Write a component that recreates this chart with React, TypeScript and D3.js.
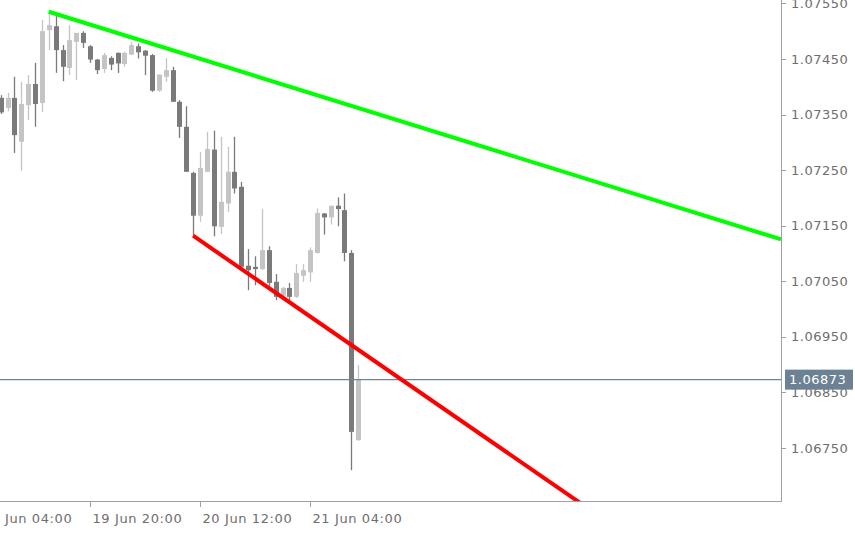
import React from "react";
import * as d3 from "d3";

// ---- Data (EURUSD H1) ----
const FIRST_BAR = "2024-06-19T07:00:00Z";
const OPEN = [1.0738,1.07362,1.0738,1.07301,1.07367,1.07405,1.07371,1.07502,1.07509,1.07466,1.07434,1.07481,1.07497,1.07473,1.07449,1.07432,1.07452,1.07461,1.07441,1.07458,1.07473,1.07465,1.07457,1.07393,1.07418,1.0743,1.07373,1.07328,1.07245,1.07168,1.07247,1.07287,1.07148,1.0719,1.07247,1.0722,1.07078,1.07076,1.07072,1.07106,1.07049,1.07024,1.07038,1.07022,1.0706,1.07066,1.07101,1.07172,1.07165,1.07186,1.07178,1.07101,1.06764];
const HIGH = [1.07385,1.07389,1.07418,1.07409,1.07421,1.07443,1.0752,1.07533,1.07529,1.07475,1.07511,1.07497,1.075,1.07475,1.0745,1.07461,1.07455,1.07462,1.07463,1.07481,1.07478,1.07466,1.07459,1.07422,1.07452,1.07436,1.07376,1.07365,1.07247,1.07283,1.07319,1.07321,1.0731,1.07292,1.0731,1.07229,1.07108,1.07095,1.0718,1.07113,1.07063,1.0704,1.07047,1.07081,1.07081,1.07111,1.07181,1.07173,1.07186,1.07201,1.07208,1.07106,1.06899];
const LOW = [1.07351,1.07356,1.07281,1.07249,1.0734,1.07328,1.07355,1.07466,1.07425,1.0741,1.07421,1.07412,1.0747,1.07443,1.07423,1.07425,1.0743,1.07425,1.07436,1.07457,1.07451,1.07421,1.07391,1.07391,1.07409,1.07373,1.07308,1.07247,1.07133,1.07157,1.07247,1.07131,1.07135,1.07175,1.07208,1.07074,1.07034,1.07043,1.0707,1.07042,1.07016,1.07019,1.07016,1.0702,1.07049,1.07049,1.071,1.07134,1.07152,1.07149,1.07086,1.0671,1.06763];
const CLOSE = [1.07354,1.0738,1.07313,1.07369,1.07405,1.07369,1.075,1.07511,1.07466,1.07436,1.07484,1.07497,1.07479,1.07449,1.0743,1.07457,1.0744,1.07442,1.07461,1.07475,1.07462,1.07456,1.07393,1.07422,1.0743,1.07373,1.07328,1.07247,1.07168,1.07254,1.07288,1.07149,1.07193,1.07247,1.07217,1.07076,1.0707,1.07072,1.07106,1.07047,1.07022,1.07038,1.07022,1.07065,1.0707,1.07106,1.07173,1.07165,1.07186,1.0718,1.07101,1.06779,1.06873];

const Y_TICKS = [1.0755,1.0745,1.0735,1.0725,1.0715,1.0705,1.0695,1.0685,1.0675];
const X_TICKS = ["2024-06-19T04:00:00Z","2024-06-19T20:00:00Z","2024-06-20T12:00:00Z","2024-06-21T04:00:00Z"];
const CURRENT_PRICE = 1.06873;

// trend lines: anchor points (time, price), drawn as rays to the right
const GREEN_LINE = [{ t: "2024-06-19T14:00:00Z", p: 1.07535 }, { t: "2024-06-21T11:00:00Z", p: 1.07362 }];
const RED_LINE = [{ t: "2024-06-20T11:00:00Z", p: 1.07132 }, { t: "2024-06-21T11:00:00Z", p: 1.06927 }];

const W = 855, H = 534;
const PLOT_R = 781, PLOT_B = 501;
const FONT = "'DejaVu Sans', Tahoma, sans-serif";

export default function App() {
  const x = d3.scaleUtc()
    .domain([new Date("2024-06-19T20:00:00Z"), new Date("2024-06-21T04:00:00Z")])
    .range([90, 310]);
  const y = d3.scaleLinear().domain([1.066546, 1.075562]).range([PLOT_B, 0]);
  const fmt = d3.format(".5f");
  const tfmt = d3.utcFormat("%d %b %H:%M");
  const start = new Date(FIRST_BAR);
  const bars = OPEN.map((o, i) => ({
    t: d3.utcHour.offset(start, i), o, h: HIGH[i], l: LOW[i], c: CLOSE[i],
  }));
  const bodyW = 5;

  const ray = (pts: { t: string; p: number }[]) => {
    const x1 = x(new Date(pts[0].t)), y1 = y(pts[0].p);
    const x2 = x(new Date(pts[1].t)), y2 = y(pts[1].p);
    const slope = (y2 - y1) / (x2 - x1);
    return { x1, y1, x2: PLOT_R, y2: y1 + (PLOT_R - x1) * slope };
  };
  const g = ray(GREEN_LINE);
  const r = ray(RED_LINE);
  const cy = y(CURRENT_PRICE);

  return (
    <svg width={W} height={H} style={{ position: "absolute", left: 0, top: 0, background: "#fff" }}
      fontFamily={FONT}>
      <defs>
        <clipPath id="plot"><rect x={0} y={0} width={PLOT_R} height={PLOT_B} /></clipPath>
      </defs>
      <rect x={0} y={0} width={W} height={H} fill="#fff" />
      <g clipPath="url(#plot)">
        {bars.map((b, i) => {
          const cx = Math.round(x(b.t));
          const up = b.c >= b.o;
          const col = up ? "#c4c4c4" : "#7a7a7a";
          const top = y(Math.max(b.o, b.c));
          const bot = y(Math.min(b.o, b.c));
          return (
            <g key={i}>
              <line x1={cx + 0.5} x2={cx + 0.5} y1={y(b.h)} y2={y(b.l)} stroke={col} strokeWidth={1.3} />
              <rect x={cx - 2} y={top} width={bodyW} height={Math.max(1.5, bot - top)} fill={col} />
            </g>
          );
        })}
        <line x1={0} x2={PLOT_R} y1={cy} y2={cy} stroke="#708497" strokeWidth={1.2} />
        <line x1={g.x1} y1={g.y1} x2={g.x2} y2={g.y2} stroke="#00ff00" strokeWidth={4} />
        <line x1={r.x1} y1={r.y1} x2={r.x2} y2={r.y2} stroke="#ff0000" strokeWidth={4} />
      </g>
      {/* axes */}
      <line x1={PLOT_R + 0.5} x2={PLOT_R + 0.5} y1={0} y2={PLOT_B + 1} stroke="#a0a0a0" strokeWidth={1} />
      <line x1={0} x2={PLOT_R + 1} y1={PLOT_B + 0.5} y2={PLOT_B + 0.5} stroke="#a0a0a0" strokeWidth={1} />
      {Y_TICKS.map((v) => (
        <g key={v}>
          <line x1={PLOT_R} x2={PLOT_R + 5} y1={Math.round(y(v)) + 0.5} y2={Math.round(y(v)) + 0.5} stroke="#a0a0a0" />
          <text x={791} y={y(v)} dy="0.35em" fontSize={13} letterSpacing={0.5} fill="#6e6e6e">{fmt(v)}</text>
        </g>
      ))}
      {X_TICKS.map((s) => {
        const tx = Math.round(x(new Date(s))) + 0.5;
        return (
          <g key={s}>
            <line x1={tx} x2={tx} y1={PLOT_B} y2={PLOT_B + 6} stroke="#a0a0a0" />
            <text x={tx + 2} y={523} fontSize={13} letterSpacing={0.6} fill="#6e6e6e">{tfmt(new Date(s))}</text>
          </g>
        );
      })}
      {/* current price label */}
      <rect x={785} y={cy - 10} width={68} height={20} fill="#6c8294" />
      <text x={789} y={cy} dy="0.35em" fontSize={13} letterSpacing={0.5} fill="#ffffff">{fmt(CURRENT_PRICE)}</text>
    </svg>
  );
}
